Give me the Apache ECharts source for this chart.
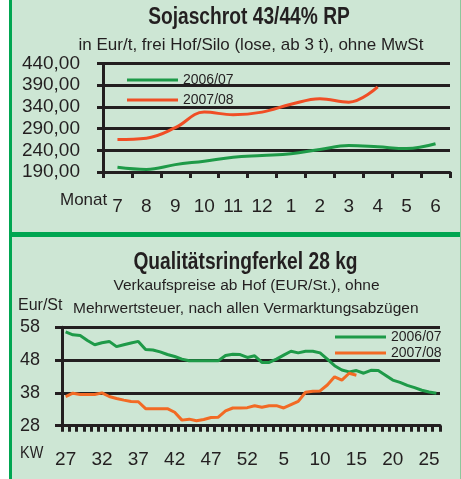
<!DOCTYPE html>
<html>
<head>
<meta charset="utf-8">
<script src="https://cdn.jsdelivr.net/npm/echarts@6/dist/echarts.min.js"></script>
<style>
html,body{margin:0;padding:0;background:#fff}
#box{width:461px;height:479px}
</style>
</head>
<body>
<div id="box"></div>
<script>
// Sojaschrot, Monatswerte
var monate=['7','8','9','10','11','12','1','2','3','4','5','6'];
var soja0607=[201,196,207,215,224,228,232,242,251,248,244,255];
var soja0708=[265,268,292,328,322,328,346,359,351,386];
var sojaTicks=[190,240,290,340,390,440];

// Ferkel, Kalenderwochen
var wochen=['27','28','29','30','31','32','33','34','35','36','37','38','39','40','41','42','43','44','45','46','47','48','49','50','51','52',
  '1','2','3','4','5','6','7','8','9','10','11','12','13','14','15','16','17','18','19','20','21','22','23','24','25','26'];
var ferkel0607=[56.6,55.7,55.5,54.0,52.7,53.3,53.7,52.1,52.7,53.2,53.7,
  51.2,51.1,50.5,49.7,49.1,48.3,47.8,47.8,47.8,47.8,47.8,
  49.4,49.8,49.7,48.8,49.3,47.3,47.3,48.3,49.5,50.7,50.2,50.7,50.7,50.2,
  48.3,46.3,45.0,44.4,44.8,44.0,44.9,44.8,43.4,41.9,41.2,40.3,39.6,38.8,38.3,37.9];
var ferkel0708=[36.9,37.9,37.5,37.5,37.5,38.0,36.9,36.3,35.8,35.4,35.3,
  33.2,33.2,33.2,33.2,32.1,29.7,30.0,29.5,29.9,30.5,30.6,
  32.5,33.4,33.4,33.5,34.1,33.6,34.1,34.1,33.4,34.4,35.4,
  38.2,38.5,38.6,40.4,42.9,41.9,44.0,43.4];
var ferkelTicks=[28,38,48,58];

var dunkel='#231f20';
var gruen='#1e9a48';
var rot='#f04e25';
var orange='#f26a24';
var schrift='"Liberation Sans", Arial, sans-serif';

// sx: horizontale Stauchung, weil keine schmale Schrift da ist
function txt(s,x,y,font,align,sx){
  return {type:'text',x:x,y:y,z:10,scaleX:sx||1,
    style:{text:s,font:font,fill:dunkel,align:align||'left',verticalAlign:'middle'}};
}

var achse={lineStyle:{color:dunkel,width:3}};

var mychart=echarts.init(document.getElementById('box'));
mychart.setOption({
  animation:false,
  backgroundColor:'#cde6d4',
  graphic:[
    {type:'rect',shape:{x:0,y:0,width:9,height:479},style:{fill:'#fff'}},
    {type:'rect',shape:{x:9,y:0,width:3,height:479},style:{fill:'#00a651'}},
    {type:'rect',shape:{x:12,y:232,width:449,height:5},style:{fill:'#00a651'}},
    {type:'rect',shape:{x:460,y:0,width:1,height:479},style:{fill:'#8cc79c'}},
    txt('Sojaschrot 43/44% RP',249,17.5,'bold 23px '+schrift,'center',0.835),
    txt('in Eur/t, frei Hof/Silo (lose, ab 3 t), ohne MwSt',251,45,'17px '+schrift,'center'),
    txt('Monat',60,200,'17px '+schrift),
    txt('Qualitätsringferkel 28 kg',245.5,262.5,'bold 23px '+schrift,'center',0.835),
    txt('Verkaufspreise ab Hof (EUR/St.), ohne',246.5,286,'15.5px '+schrift,'center'),
    txt('Eur/St',18,305.5,'16px '+schrift),
    txt('Mehrwertsteuer, nach allen Vermarktungsabzügen',73,308.5,'15.5px '+schrift),
    txt('KW',20,453,'17px '+schrift,'left',0.85)
  ],
  legend:[{
    orient:'vertical',left:127,top:72.5,padding:0,itemWidth:51,itemHeight:3,itemGap:5,icon:'rect',selectedMode:false,
    textStyle:{fontSize:14,lineHeight:15,color:dunkel,fontFamily:schrift},
    data:[{name:'2006/07',itemStyle:{color:gruen}},{name:'2007/08',itemStyle:{color:rot}}]
  },{
    orient:'vertical',left:335,top:330,padding:0,itemWidth:51,itemHeight:3,itemGap:2,icon:'rect',selectedMode:false,
    textStyle:{fontSize:14,lineHeight:14,color:dunkel,fontFamily:schrift},
    data:[{name:'2006/07',itemStyle:{color:gruen}},{name:'2007/08',itemStyle:{color:orange}}]
  }],
  grid:[
    {left:103,top:63.5,width:347,height:108.5},
    {left:62,top:327.3,width:378,height:98.4}
  ],
  xAxis:[{
    gridIndex:0,type:'category',data:monate,boundaryGap:true,
    axisLine:achse,
    axisTick:{show:true,length:6,interval:0,lineStyle:{color:dunkel,width:3}},
    axisLabel:{margin:25,fontSize:19,color:dunkel,fontFamily:schrift,interval:0}
  },{
    gridIndex:1,type:'category',data:wochen,boundaryGap:true,
    axisLine:achse,
    axisTick:{show:true,length:6,interval:0,lineStyle:{color:dunkel,width:3}},
    axisLabel:{margin:25,fontSize:19,color:dunkel,fontFamily:schrift,interval:4}
  }],
  yAxis:[{
    gridIndex:0,type:'value',min:190,max:440,
    axisLine:{show:true,lineStyle:{color:dunkel,width:3}},
    axisTick:{show:true,length:6,customValues:sojaTicks,lineStyle:{color:dunkel,width:3}},
    axisLabel:{margin:23,fontSize:19,color:dunkel,fontFamily:schrift,customValues:sojaTicks,
      formatter:function(v){return v.toFixed(2).replace('.',',')}},
    splitLine:{show:true,lineStyle:{color:dunkel,width:3}}
  },{
    gridIndex:1,type:'value',min:28,max:58,
    axisLine:{show:true,lineStyle:{color:dunkel,width:3}},
    axisTick:{show:true,length:7,customValues:ferkelTicks,lineStyle:{color:dunkel,width:3}},
    axisLabel:{margin:22,fontSize:18,color:dunkel,fontFamily:schrift,customValues:ferkelTicks},
    splitLine:{show:true,lineStyle:{color:dunkel,width:3}}
  }],
  series:[
    {name:'2006/07',type:'line',xAxisIndex:0,yAxisIndex:0,data:soja0607,smooth:0.4,symbol:'none',lineStyle:{color:gruen,width:3},itemStyle:{color:gruen}},
    {name:'2007/08',type:'line',xAxisIndex:0,yAxisIndex:0,data:soja0708,smooth:0.4,symbol:'none',lineStyle:{color:rot,width:3},itemStyle:{color:rot}},
    {name:'2006/07',type:'line',xAxisIndex:1,yAxisIndex:1,data:ferkel0607,symbol:'none',lineStyle:{color:gruen,width:3},itemStyle:{color:gruen}},
    {name:'2007/08',type:'line',xAxisIndex:1,yAxisIndex:1,data:ferkel0708,symbol:'none',lineStyle:{color:orange,width:3},itemStyle:{color:orange}}
  ]
});
</script>
</body>
</html>
